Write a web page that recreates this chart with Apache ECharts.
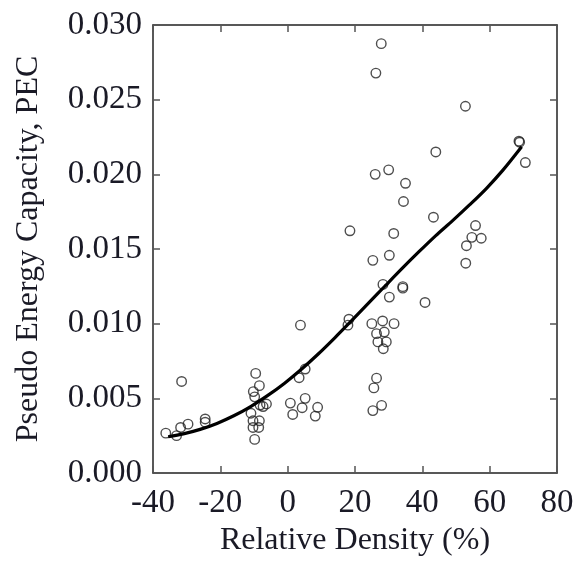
<!DOCTYPE html>
<html>
<head>
<meta charset="utf-8">
<script src="https://cdn.jsdelivr.net/npm/echarts@6/dist/echarts.min.js"></script>
<style>
html,body{margin:0;padding:0;background:#fff;}
#chart{width:579px;height:562px;}
</style>
</head>
<body>
<div id="chart"></div>
<script>
// Measured data points: relative density (%) vs pseudo energy capacity (PEC)
const pointX = [
  -36.2, -33.0, -31.8, -29.6, -24.5, -24.5, -31.5,
  -9.5, -8.4, -10.2, -9.8, -8.2, -6.3, -7.3, -10.9, -10.3, -8.4, -10.3, -8.6, -9.8,
  3.8, 5.2, 3.4, 0.8, 1.5, 5.2, 4.3, 8.9, 8.2,
  18.5, 18.2, 17.9,
  27.8, 26.2, 26.0, 30.0, 35.0, 34.4, 31.5, 30.2, 25.3, 34.2, 34.2, 30.2, 28.3,
  25.0, 28.2, 31.6, 26.4, 28.7, 26.8, 29.3, 28.4, 26.4, 25.6, 27.9, 25.3,
  40.8, 43.3, 44.0, 52.8, 68.7, 68.9, 70.6, 55.8, 54.7, 53.1, 57.5, 52.9
];
const pointY = [
  0.00267, 0.00250, 0.00305, 0.00327, 0.00362, 0.00340, 0.00613,
  0.00667, 0.00585, 0.00545, 0.00510, 0.00455, 0.00462, 0.00445, 0.00400, 0.00350, 0.00350, 0.00305, 0.00305, 0.00225,
  0.00990, 0.00696, 0.00638, 0.00468, 0.00392, 0.00500, 0.00437, 0.00440, 0.00381,
  0.01622, 0.01030, 0.00990,
  0.02875, 0.02678, 0.02000, 0.02030, 0.01940, 0.01818, 0.01604, 0.01458, 0.01424, 0.01248, 0.01238, 0.01178, 0.01263,
  0.01000, 0.01018, 0.01000, 0.00933, 0.00944, 0.00878, 0.00878, 0.00832, 0.00635, 0.00570, 0.00453, 0.00418,
  0.01142, 0.01713, 0.02150, 0.02456, 0.02222, 0.02215, 0.02079, 0.01657, 0.01578, 0.01522, 0.01572, 0.01405
];
// Fitted trend curve
const fitX = [-35.5, -31, -26, -21, -16, -11, -6, -1, 4, 9, 14, 19, 24, 29, 34, 39, 44, 49, 54, 59, 64, 69.5];
const fitY = [0.00243, 0.00262, 0.00292, 0.00332, 0.00383, 0.00445, 0.00518, 0.00600, 0.00693, 0.00795, 0.00905,
              0.01020, 0.01137, 0.01254, 0.01370, 0.01482, 0.01590, 0.01690, 0.01795, 0.01905, 0.02030, 0.02185];
// Axis settings
const xMin = -40, xMax = 80, xStep = 20;
const yMin = 0, yMax = 0.030, yStep = 0.005;
const xTitle = 'Relative Density (%)';
const yTitle = 'Pseudo Energy Capacity, PEC';

const font = '"Liberation Serif", "Times New Roman", serif';
const txt = '#1a1a26';
const lineCol = '#222';

const scatterData = pointX.map((x, i) => [x, pointY[i]]);
const fitData = fitX.map((x, i) => [x, fitY[i]]);

const chart = echarts.init(document.getElementById('chart'), null, {renderer: 'canvas'});
const baseAxisLine = {show: true, onZero: false, lineStyle: {color: lineCol, width: 1.5}};
const tick = {show: true, inside: true, length: 7, lineStyle: {color: '#555', width: 1.5}};
chart.setOption({
  animation: false,
  backgroundColor: '#fff',
  grid: {left: 153, right: 22, top: 25, bottom: 87},
  xAxis: [{
    type: 'value', min: xMin, max: xMax, interval: xStep,
    position: 'bottom',
    name: xTitle, nameLocation: 'middle', nameGap: 52,
    nameTextStyle: {fontFamily: font, fontSize: 32, color: txt},
    axisLine: baseAxisLine, axisTick: tick, splitLine: {show: false},
    axisLabel: {fontFamily: font, fontSize: 33, color: txt, margin: 14,
      formatter: v => String(v)}
  }, {
    type: 'value', min: xMin, max: xMax, interval: xStep,
    position: 'top', axisLine: baseAxisLine, axisTick: tick,
    axisLabel: {show: false}, splitLine: {show: false}
  }],
  yAxis: [{
    type: 'value', min: yMin, max: yMax, interval: yStep,
    position: 'left',
    name: yTitle, nameLocation: 'middle', nameGap: 108, nameRotate: 90,
    nameTextStyle: {fontFamily: font, fontSize: 32, color: txt},
    axisLine: baseAxisLine, axisTick: tick, splitLine: {show: false},
    axisLabel: {fontFamily: font, fontSize: 33, color: txt, margin: 11,
      formatter: v => v.toFixed(3)}
  }, {
    type: 'value', min: yMin, max: yMax, interval: yStep,
    position: 'right', axisLine: baseAxisLine, axisTick: tick,
    axisLabel: {show: false}, splitLine: {show: false}
  }],
  series: [{
    type: 'scatter',
    data: scatterData,
    symbol: 'circle',
    symbolSize: 9.5,
    itemStyle: {color: 'rgba(255,255,255,0)', borderColor: '#222', borderWidth: 1.4}
  }, {
    type: 'line',
    data: fitData,
    smooth: 0.3,
    showSymbol: false,
    lineStyle: {color: '#000', width: 3.2}
  }]
});
</script>
</body>
</html>
